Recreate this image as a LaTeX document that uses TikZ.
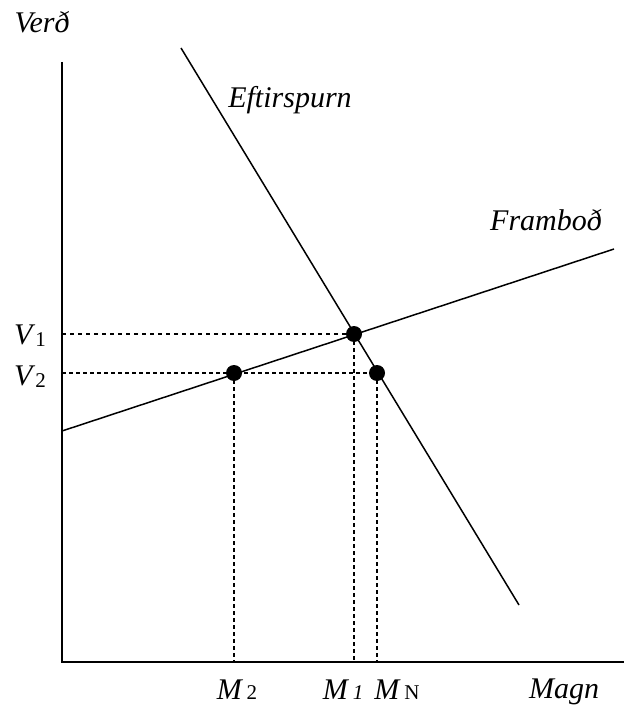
\documentclass[tikz,border=0pt]{standalone}
\usepackage{fontspec}
\setmainfont{Liberation Serif}
\newcommand{\sbs}[1]{{\fontsize{21}{24}\selectfont #1}}
\begin{document}
\begin{tikzpicture}[x=1pt,y=-1pt,
  lbl/.style={inner sep=0pt,font=\fontsize{30}{34}\selectfont\itshape},
  ax/.style={line width=1.8pt},
  crv/.style={line width=1.5pt},
  dotA/.style={dash pattern=on 4pt off 4pt,line width=1.4pt},
  dotB/.style={dash pattern=on 4pt off 3pt,line width=2.3pt},
  pt/.style={circle,fill=black,minimum size=16pt,inner sep=0pt}]
\useasboundingbox (0,0) rectangle (624,711);
\coordinate (O) at (62,662);
\coordinate (Ytop) at (62,62);
\coordinate (Xend) at (624,662);
\draw[ax] (Ytop) -- (O) -- (Xend);
\coordinate (D1) at (181,48);
\coordinate (D2) at (519,605);
\coordinate (S1) at (62,431);
\coordinate (S2) at (614,249);
\draw[crv] (D1) -- (D2);
\draw[crv] (S1) -- (S2);
\node[pt] (E) at (354,334) {};
\node[pt] (P2) at (234,373) {};
\node[pt] (PN) at (377,373) {};
\coordinate (aV1) at (62,334);
\coordinate (aV2) at (62,373);
\coordinate (bM2) at (234,662);
\coordinate (bM1) at (354,662);
\coordinate (bMN) at (377,662);
\draw[dotA] (aV1) -- (E.center);
\draw[dotB] (aV2) -- (PN.center);
\draw[dotB] (P2.center) -- (bM2);
\draw[dotB] (E.center) -- (bM1);
\draw[dotB] (PN.center) -- (bMN);
\node[lbl] (ly) at (42,22) {Verð};
\node[lbl] (lx) at (564,692) {Magn};
\node[lbl] (ld) at (290,100) {Eftirspurn};
\node[lbl] (ls) at (546,220) {Framboð};
\node[lbl] (v1) at (30,336) {V\kern3pt\raisebox{-2pt}{\upshape\sbs{1}}};
\node[lbl] (v2) at (30,377) {V\kern3pt\raisebox{-2pt}{\upshape\sbs{2}}};
\node[lbl] (m2) at (237,690) {M\,\upshape\sbs{2}};
\node[lbl] (m1) at (343,690) {M\,\sbs{1}};
\node[lbl] (mn) at (397,690) {M\,\upshape\sbs{N}};
\end{tikzpicture}
\end{document}
